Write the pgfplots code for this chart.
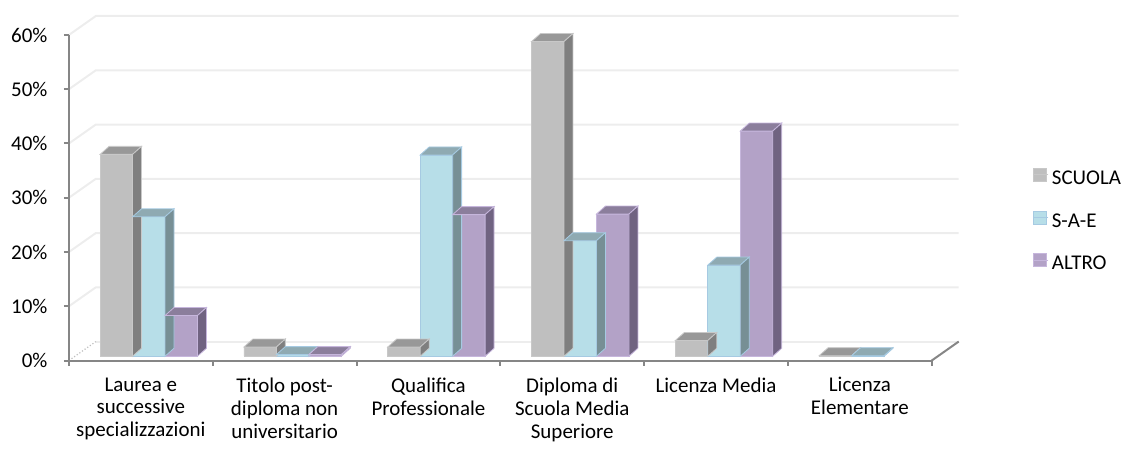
\documentclass[border=0pt]{standalone}
\usepackage{pgfplots}
\pgfplotsset{compat=1.18}
\usepackage{pgfplotstable}
\usepackage{fontspec}
\setmainfont{Carlito}
\definecolor{axisgray}{HTML}{868686}
\definecolor{gridgray}{HTML}{EDEDED}
\definecolor{scF}{HTML}{BFBFBF}
\definecolor{scT}{HTML}{989898}
\definecolor{scS}{HTML}{7F7F7F}
\definecolor{scE}{HTML}{C8C8C8}
\definecolor{saF}{HTML}{B7DEE8}
\definecolor{saT}{HTML}{8FAAB2}
\definecolor{saS}{HTML}{778F95}
\definecolor{saE}{HTML}{A6CAE2}
\definecolor{alF}{HTML}{B3A2C7}
\definecolor{alT}{HTML}{8B7E9C}
\definecolor{alS}{HTML}{706381}
\definecolor{alE}{HTML}{C6B6DC}
\pgfdeclareplotmark{none3d}{}
\pgfplotsset{
  faces3d/.style n args={4}{
    only marks, scatter, mark=none3d, forget plot,
    visualization depends on={rawy \as \val},
    scatter/@pre marker code/.code={%
      \pgfmathsetlengthmacro\hh{\val*2.71667pt}%
      \pgfmathsetlengthmacro\xL{#1-8.125pt}%
      \pgfmathsetlengthmacro\xR{#1+8.125pt}%
      \pgfmathsetlengthmacro\xRb{#1+12.625pt}%
      \pgfmathsetlengthmacro\xLb{#1-3.625pt}%
      \pgfmathsetlengthmacro\yB{6.15pt-\hh}%
      \pgfmathsetlengthmacro\yF{2.15pt-\hh}%
      \filldraw[fill=#2, draw=#4, line width=0.4pt] (\xL,2.15pt) -- (\xR,2.15pt) -- (\xRb,6.15pt) -- (\xLb,6.15pt) -- cycle;
      \filldraw[fill=#3, draw=#4, line width=0.4pt] (\xR,2.15pt) -- (\xRb,6.15pt) -- (\xRb,\yB) -- (\xR,\yF) -- cycle;
    },
    scatter/@post marker code/.code={},
  }
}
\pgfplotstableread{
x scuola sae altro
0 37.2 25.7 7.5
1 1.7 0.3 0.3
2 1.7 37.1 26.1
3 58.0 21.3 26.2
4 2.9 16.8 41.5
5 0.1 0.1 nan
}\data
\begin{document}
\begin{tikzpicture}
\begin{axis}[
  at={(0pt,0pt)}, anchor=south west,
  scale only axis, width=432pt, height=163pt,
  xmin=-0.5, xmax=5.5, ymin=0, ymax=60,
  clip=false, set layers,
  axis x line*=bottom, axis y line*=left,
  axis line style={draw=axisgray, line width=1pt},
  tick style={draw=axisgray, line width=1pt},
  tick align=outside, major tick length=2.5pt,
  ytick={0,10,...,60},
  yticklabel={\pgfmathprintnumber{\tick}\%},
  /pgf/number format/assume math mode=true,
  tick label style={font=\fontsize{10.5}{11.5}\selectfont, text=black},
  yticklabel style={xshift=-4.7pt},
  xtick={-0.5,0.5,...,5.5}, xticklabels={},
  extra x ticks={0,1,2,3,4,5},
  extra x tick labels={{Laurea e\\successive\\specializzazioni},{Titolo post-\\diploma non\\universitario},{Qualifica\\Professionale},{Diploma di\\Scuola Media\\Superiore},{Licenza Media},{Licenza\\Elementare}},
  extra x tick style={major tick length=0pt, xticklabel style={align=center, yshift=-5pt}},
  legend style={at={(1.117,0.4263)}, anchor=west, draw=none, fill=none,
    font=\fontsize{10.5}{11.5}\selectfont, row sep=10pt, inner sep=0pt,
    nodes={inner sep=1.5pt}},
  legend cell align=left,
]
\begin{pgfonlayer}{axis background}
\pgfplotsinvokeforeach{10,20,30,40,50,60}{
  \draw[gridgray, line width=1pt] (axis cs:-0.5,#1) -- ([shift={(13.5pt,9.5pt)}]axis cs:-0.5,#1) -- ([shift={(13.5pt,9.5pt)}]axis cs:5.5,#1);
}
\draw[gridgray, line width=1pt] ([shift={(13.5pt,9.5pt)}]axis cs:-0.5,0) -- ([shift={(13.5pt,9.5pt)}]axis cs:5.5,0);
\draw[gray!50, densely dotted, line width=0.6pt] (axis cs:-0.5,0) -- ([shift={(13.5pt,9.5pt)}]axis cs:-0.5,0);
\end{pgfonlayer}
\draw[axisgray, line width=1pt] (axis cs:5.5,0) -- ([shift={(13.5pt,9.5pt)}]axis cs:5.5,0);

\addplot[ybar, bar width=16.25pt, bar shift=-12.25pt, yshift=2.15pt, fill=scF, draw=scE, line width=0.4pt,
  legend image code/.code={\filldraw[fill=scF,draw=scE,line width=0.4pt] (0pt,-3.25pt) rectangle (6.5pt,3.25pt); \path (0pt,0pt) -- (7.5pt,0pt);}]
  table[x=x,y=scuola]{\data};
\addlegendentry{SCUOLA}
\addplot[faces3d={-12.25pt}{scT}{scS}{scE}] table[x=x,y=scuola]{\data};

\addplot[ybar, bar width=16.25pt, bar shift=4pt, yshift=2.15pt, fill=saF, draw=saE, line width=0.4pt,
  legend image code/.code={\filldraw[fill=saF,draw=saE,line width=0.4pt] (0pt,-3.25pt) rectangle (6.5pt,3.25pt); \path (0pt,0pt) -- (7.5pt,0pt);}]
  table[x=x,y=sae]{\data};
\addlegendentry{S-A-E}
\addplot[faces3d={4pt}{saT}{saS}{saE}] table[x=x,y=sae]{\data};

\addplot[ybar, bar width=16.25pt, bar shift=20.25pt, yshift=2.15pt, fill=alF, draw=alE, line width=0.4pt,
  legend image code/.code={\filldraw[fill=alF,draw=alE,line width=0.4pt] (0pt,-3.25pt) rectangle (6.5pt,3.25pt); \path (0pt,0pt) -- (7.5pt,0pt);}]
  table[x=x,y=altro]{\data};
\addlegendentry{ALTRO}
\addplot[faces3d={20.25pt}{alT}{alS}{alE}] table[x=x,y=altro]{\data};
\end{axis}
\path (-34.5pt,-39.5pt) rectangle (527.5pt,180.5pt);
\end{tikzpicture}
\end{document}
